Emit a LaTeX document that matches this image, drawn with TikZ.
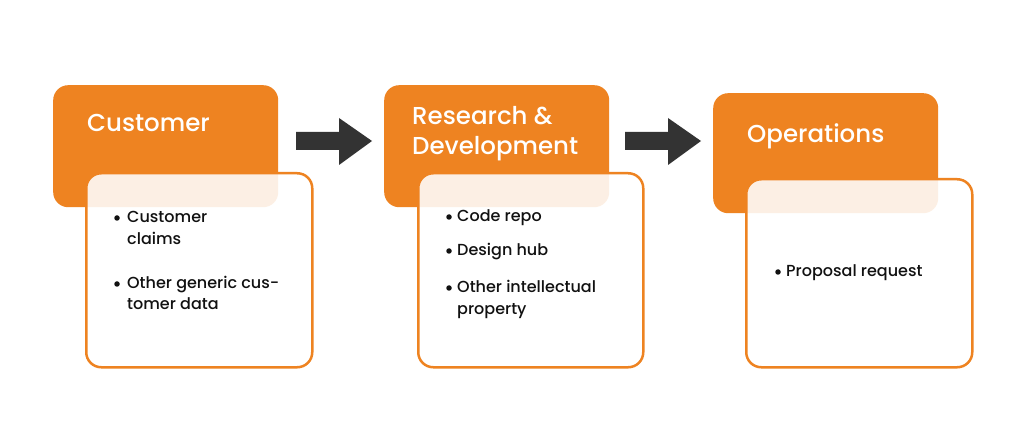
\documentclass[tikz,border=0pt]{standalone}
\usepackage{fontspec}
\setmainfont{Poppins}[UprightFont=* Medium]
\definecolor{orng}{HTML}{EE8321}
\definecolor{dark}{HTML}{333333}
\definecolor{txt}{HTML}{111111}
\tikzset{
  headbox/.style={fill=orng, rounded corners=15pt, inner sep=0pt, anchor=north west},
  listbox/.style={draw=orng, line width=2.5pt, fill=white, fill opacity=0.88, rounded corners=15pt, inner sep=0pt, anchor=north west},
  title/.style={text=white, font=\fontsize{24.5}{30}\selectfont, anchor=base west, inner sep=0pt},
  item/.style={text=txt, font=\fontsize{16}{22}\selectfont, anchor=base west, inner sep=0pt},
  dot/.style={circle, fill=txt, inner sep=0pt, minimum size=5.5pt},
  blockarrow/.style={fill=dark}
}
\begin{document}
\begin{tikzpicture}[x=1pt,y=1pt]
\useasboundingbox (0,0) rectangle (1024,447);
\fill[white] (0,0) rectangle (1024,447);
% Customer
\node[headbox, minimum width=225pt, minimum height=122pt] (h1) at (53,362) {};
\node[listbox, minimum width=226pt, minimum height=194pt] (b1) at (85,275) {};
\node[title] (t1) at (87,315) {Customer};
\node[dot] (d11) at (117,229) {};
\node[item] (i11) at (127,224) {Customer};
\node[item] (i12) at (127,202) {claims};
\node[dot] (d12) at (117,163) {};
\node[item] (i13) at (127,158) {Other generic cus-};
\node[item] (i14) at (127,137) {tomer data};
% R&D
\node[headbox, minimum width=225pt, minimum height=122pt] (h2) at (384,362) {};
\node[listbox, minimum width=225pt, minimum height=194pt] (b2) at (417,275) {};
\node[title] (t2) at (412,322) {Research \&};
\node[title] (t2b) at (412,292) {Development};
\node[dot] (d21) at (449,230) {};
\node[item] (i21) at (457,225) {Code repo};
\node[dot] (d22) at (449,196) {};
\node[item] (i22) at (457,191) {Design hub};
\node[dot] (d23) at (449,159) {};
\node[item] (i23) at (457,154) {Other intellectual};
\node[item] (i24) at (457,132) {property};
% Operations
\node[headbox, minimum width=225pt, minimum height=120pt] (h3) at (713,354) {};
\node[listbox, minimum width=226pt, minimum height=188pt] (b3) at (745,269) {};
\node[title] (t3) at (747,304) {Operations};
\node[dot] (d31) at (778,175) {};
\node[item] (i31) at (786,170) {Proposal request};
% arrows
\fill[blockarrow] (296,315) -- (339,315) -- (339,329) -- (372,306) -- (339,282) -- (339,297) -- (296,297) -- cycle;
\fill[blockarrow] (625,315) -- (668,315) -- (668,329) -- (701,306) -- (668,282) -- (668,297) -- (625,297) -- cycle;
\end{tikzpicture}
\end{document}
